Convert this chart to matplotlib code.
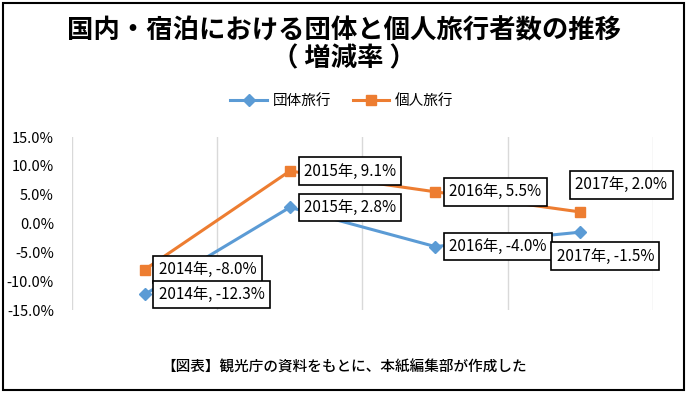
import matplotlib
matplotlib.use("Agg")
import matplotlib.pyplot as plt
from matplotlib.patches import Rectangle

plt.rcParams['font.family'] = ['Noto Sans CJK JP', 'DejaVu Sans']

years = ['2014年', '2015年', '2016年', '2017年']
group_vals = [-12.3, 2.8, -4.0, -1.5]
indiv_vals = [-8.0, 9.1, 5.5, 2.0]
series_names = ['団体旅行', '個人旅行']
yticks = [-15, -10, -5, 0, 5, 10, 15]

blue = '#5B9BD5'
orange = '#ED7D31'

fig = plt.figure(figsize=(6.88, 3.93), dpi=100)
ax = fig.add_axes([72/688, 1-310/393, (653-72)/688, (310-137)/393])

x = list(range(len(years)))
l1, = ax.plot(x, group_vals, color=blue, lw=2.2, marker='D', ms=6.5, zorder=3)
l2, = ax.plot(x, indiv_vals, color=orange, lw=2.2, marker='s', ms=7.5, zorder=3)

ax.set_xlim(-0.5, len(years) - 0.5)
ax.set_ylim(-15, 15)
ax.set_yticks(yticks)
ax.set_yticklabels([f'{v:.1f}%' for v in yticks], fontsize=10.5)
ax.set_xticks([i - 0.5 for i in range(len(years) + 1)])
ax.set_xticklabels([])
ax.tick_params(length=0, pad=13)
ax.grid(axis='x', color='#d9d9d9', lw=1)
for s in ax.spines.values():
    s.set_visible(False)

box = dict(boxstyle='square,pad=0.35', fc='white', ec='black', lw=1.2)

def lab(i, v, dx, dy, ha='left'):
    ax.annotate(f'{years[i]}, {v:.1f}%', (i, v), xytext=(dx, dy),
                textcoords='offset pixels', ha=ha, va='center',
                fontsize=11, bbox=box, zorder=5)

for i, v in enumerate(indiv_vals):
    if i == 3:
        lab(i, v, 41, 27, 'center')
    else:
        lab(i, v, 14, 0)
for i, v in enumerate(group_vals):
    if i == 3:
        lab(i, v, 25, -24, 'center')
    else:
        lab(i, v, 14, 0)

fig.text(0.5, 1-31/393, '国内・宿泊における団体と個人旅行者数の推移', ha='center', va='center',
         fontsize=19, fontweight='bold')
fig.text(0.5, 1-59/393, '（ 増減率 ）', ha='center', va='center',
         fontsize=19, fontweight='bold')

fig.legend([l1, l2], series_names, loc='center', bbox_to_anchor=(342/688, 1-101/393),
           ncol=2, frameon=False, fontsize=10.5, handlelength=2.5, columnspacing=1.5,
           handletextpad=0.4)

fig.text(0.5, 1-368/393, '【図表】観光庁の資料をもとに、本紙編集部が作成した', ha='center',
         va='center', fontsize=10.5, fontweight='medium')

fig.patches.append(Rectangle((3/688, 3/393), 681/688, 387/393, transform=fig.transFigure,
                             fill=False, ec='black', lw=1.5))

fig.savefig('out.png', dpi=100)
